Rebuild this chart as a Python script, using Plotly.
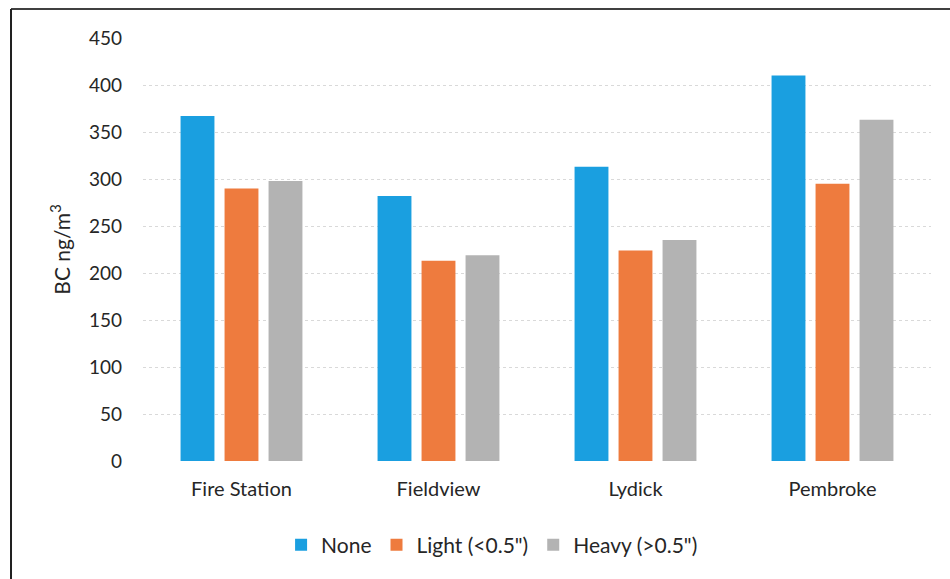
import plotly.graph_objects as go

sites = ["Fire Station", "Fieldview", "Lydick", "Pembroke"]
none_vals = [367, 282, 313, 410]
light_vals = [290, 213, 224, 295]
heavy_vals = [298, 219, 235, 363]
series_names = ["None", "Light (<0.5\")", "Heavy (>0.5\")"]
series_colors = ["#1a9fe0", "#ee7b3e", "#b3b3b3"]
y_ticks = [0, 50, 100, 150, 200, 250, 300, 350, 400, 450]

fig = go.Figure()
for name, vals, col in zip(series_names, [none_vals, light_vals, heavy_vals], series_colors):
    fig.add_trace(go.Bar(x=sites, y=vals, name=name, marker=dict(color=col, line=dict(width=0))))

font_family = "Lato, 'Open Sans', sans-serif"
fig.update_layout(
    width=950, height=579,
    margin=dict(l=143, r=19, t=38, b=118),
    paper_bgcolor="white", plot_bgcolor="white",
    barmode="group", bargap=0.33, bargroupgap=0.23,
    font=dict(family=font_family, size=20, color="#262626"),
    legend=dict(orientation="h", x=0.443, xanchor="center", y=-0.199, yanchor="middle",
                font=dict(size=21), itemsizing="constant", traceorder="normal"),
    xaxis=dict(showgrid=False, showline=False, ticks="", tickfont=dict(size=20),
               ticklabelstandoff=14),
    yaxis=dict(range=[0, 450], tickvals=y_ticks, showgrid=True, gridcolor="#d9d9d9",
               griddash="dot", gridwidth=1, zeroline=False, showline=False,
               tickfont=dict(size=19), ticks="", ticklabelstandoff=20,
               title=dict(text="BC ng/m<sup>3</sup>", font=dict(size=21), standoff=12)),
    shapes=[
        dict(type="line", xref="paper", yref="paper", x0=-0.1675, x1=1.04, y0=1.0686, y1=1.0686,
             line=dict(color="#404040", width=2)),
        dict(type="line", xref="paper", yref="paper", x0=-0.1675, x1=-0.1675, y0=1.0686, y1=-0.31,
             line=dict(color="#202020", width=2)),
    ],
)

fig.write_html("out.html")
